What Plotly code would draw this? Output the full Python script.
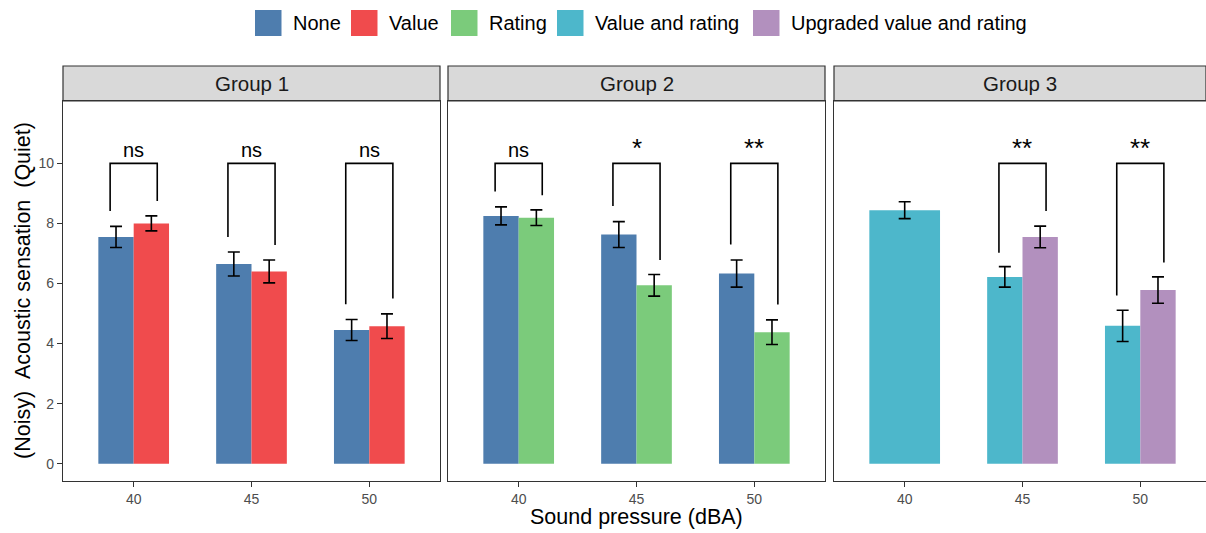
import plotly.graph_objects as go

# ---------------- data ----------------
categories = ["40", "45", "50"]
series_names = ["None", "Value", "Rating", "Value and rating", "Upgraded value and rating"]
series_colors = ["#4E7DAE", "#F04B4D", "#7BCB7B", "#4DB7CB", "#B290BE"]

# Group 1
g1_none = [7.55, 6.65, 4.45]
g1_none_se = [0.35, 0.40, 0.35]
g1_value = [8.00, 6.40, 4.58]
g1_value_se = [0.25, 0.38, 0.41]
# Group 2
g2_none = [8.25, 7.63, 6.33]
g2_none_se = [0.30, 0.43, 0.45]
g2_rating = [8.19, 5.94, 4.38]
g2_rating_se = [0.26, 0.36, 0.41]
# Group 3
g3_vr = [8.44, 6.22, 4.59]
g3_vr_se = [0.28, 0.34, 0.52]
g3_up = [None, 7.55, 5.78]
g3_up_se = [None, 0.36, 0.44]

# significance brackets: category, left leg bottom, right leg bottom, label
bracket_top = 10.0
g1_br_cats = ["40", "45", "50"]
g1_br_left = [8.41, 7.55, 5.31]
g1_br_right = [8.75, 7.28, 5.50]
g1_br_labels = ["ns", "ns", "ns"]
g2_br_cats = ["40", "45", "50"]
g2_br_left = [9.06, 8.58, 7.30]
g2_br_right = [8.94, 6.78, 5.30]
g2_br_labels = ["ns", "*", "**"]
g3_br_cats = ["45", "50"]
g3_br_left = [7.02, 5.60]
g3_br_right = [8.41, 6.70]
g3_br_labels = ["**", "**"]

group_titles = ["Group 1", "Group 2", "Group 3"]
y_ticks = [0, 2, 4, 6, 8, 10]

# ---------------- layout constants ----------------
W, H = 1206, 533
ML, MR, MT, MB = 63, 0, 101, 52
PW = W - ML - MR
PH = H - MT - MB
FONT = "Liberation Sans, Arial, sans-serif"
BW = 0.3          # single bar width (category units)
HALF = 0.2        # bracket half-width

def px_x(px):
    return (px - ML) / PW

def px_y(py):
    return (H - MB - py) / PH

domains = [[px_x(63), px_x(440)], [px_x(448), px_x(825)], [px_x(834), 1.0]]
unit = (440 - 63) / 3.2
xranges = [[-0.6, 2.6], [-0.6, 2.6], [-0.6, -0.6 + (W - 834) / unit]]

fig = go.Figure()

def err(se):
    return dict(type="data", array=se, visible=True, color="black", thickness=1.6, width=6)

def add_bar(y, se, color, axis, offset, width, name):
    fig.add_trace(go.Bar(
        x=categories, y=y, name=name, marker=dict(color=color, line=dict(width=0)),
        offset=offset, width=width, error_y=err(se), showlegend=False,
        xaxis="x" + axis, yaxis="y" + axis,
    ))

add_bar(g1_none, g1_none_se, series_colors[0], "", -BW, BW, "None")
add_bar(g1_value, g1_value_se, series_colors[1], "", 0, BW, "Value")
add_bar(g2_none, g2_none_se, series_colors[0], "2", -BW, BW, "None")
add_bar(g2_rating, g2_rating_se, series_colors[2], "2", 0, BW, "Rating")
add_bar(g3_vr, g3_vr_se, series_colors[3], "3", -BW,
        [BW if u is not None else 2 * BW for u in g3_up], "Value and rating")
add_bar(g3_up, g3_up_se, series_colors[4], "3", 0, BW, "Upgraded value and rating")

shapes = []
annotations = []

def add_brackets(cats, left, right, labels, axis):
    xr, yr = "x" + axis, "y" + axis
    for c, l, r, lab in zip(cats, left, right, labels):
        i = categories.index(c)
        path = (f"M {i - HALF},{l} L {i - HALF},{bracket_top} "
                f"L {i + HALF},{bracket_top} L {i + HALF},{r}")
        shapes.append(dict(type="path", path=path, xref=xr, yref=yr,
                           line=dict(color="black", width=1.6)))
        star = lab.startswith("*")
        annotations.append(dict(x=i, y=bracket_top - (0.07 if star else 0.0),
                                xref=xr, yref=yr, text=lab,
                                showarrow=False, yanchor="bottom", xanchor="center",
                                font=dict(family=FONT, size=26 if star else 20, color="black")))

add_brackets(g1_br_cats, g1_br_left, g1_br_right, g1_br_labels, "")
add_brackets(g2_br_cats, g2_br_left, g2_br_right, g2_br_labels, "2")
add_brackets(g3_br_cats, g3_br_left, g3_br_right, g3_br_labels, "3")

# facet strips
for (d0, d1), title in zip(domains, group_titles):
    shapes.append(dict(type="rect", xref="paper", yref="paper", x0=d0, x1=d1,
                       y0=1.0, y1=px_y(66), fillcolor="#D9D9D9",
                       line=dict(color="#333333", width=1.2), layer="below"))
    annotations.append(dict(x=(d0 + d1) / 2, y=(1.0 + px_y(66)) / 2, xref="paper", yref="paper",
                            text=title, showarrow=False, xanchor="center", yanchor="middle",
                            font=dict(family=FONT, size=20.5, color="#1A1A1A")))

# legend (manual, top)
legend_box_x = [255, 351, 451, 557, 753]
for name, color, bx in zip(series_names, series_colors, legend_box_x):
    shapes.append(dict(type="rect", xref="paper", yref="paper",
                       x0=px_x(bx), x1=px_x(bx + 26.5), y0=px_y(36), y1=px_y(10),
                       fillcolor=color, line=dict(width=0)))
    annotations.append(dict(x=px_x(bx + 36), y=px_y(23), xref="paper", yref="paper",
                            text=name, showarrow=False, xanchor="left", yanchor="middle",
                            font=dict(family=FONT, size=20, color="black")))

# axis titles
annotations.append(dict(x=px_x(636), y=px_y(517), xref="paper", yref="paper",
                        text="Sound pressure (dBA)", showarrow=False,
                        xanchor="center", yanchor="middle",
                        font=dict(family=FONT, size=21.5, color="black")))
annotations.append(dict(x=px_x(23), y=px_y(291), xref="paper", yref="paper",
                        text="(Noisy)\u00a0\u00a0Acoustic sensation\u00a0\u00a0(Quiet)",
                        textangle=-90, showarrow=False, xanchor="center", yanchor="middle",
                        font=dict(family=FONT, size=21.5, color="black")))

axis_common = dict(showline=True, mirror=True, linecolor="#333333", linewidth=1.2,
                   showgrid=False, zeroline=False, ticks="outside", ticklen=5,
                   tickcolor="#333333", tickwidth=1.1,
                   tickfont=dict(family=FONT, size=14, color="#4D4D4D"))

layout = dict(
    width=W, height=H, margin=dict(l=ML, r=MR, t=MT, b=MB),
    paper_bgcolor="white", plot_bgcolor="white", barmode="overlay",
    shapes=shapes, annotations=annotations, showlegend=False,
)
for k, (dom, xr) in enumerate(zip(domains, xranges)):
    sfx = "" if k == 0 else str(k + 1)
    layout["xaxis" + sfx] = dict(axis_common, type="category", domain=dom, range=xr,
                                 anchor="y" + sfx, categoryorder="array",
                                 categoryarray=categories)
    ydict = dict(axis_common, range=[-0.575, 12.075], domain=[0, 1], anchor="x" + sfx,
                 tickvals=y_ticks)
    if k > 0:
        ydict.update(matches="y", showticklabels=False, ticks="")
    layout["yaxis" + sfx] = ydict

fig.update_layout(**layout)
fig.write_html(
    "out.html",
    config={"displayModeBar": False},
    post_script="document.body.style.margin='0px';document.body.style.overflow='hidden';",
)
